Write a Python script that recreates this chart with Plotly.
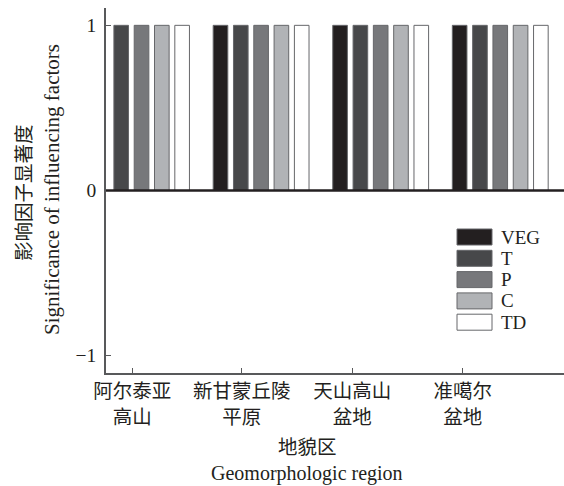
import plotly.graph_objects as go

# ---- data ----
regions = ["阿尔泰亚<br>高山", "新甘蒙丘陵<br>平原", "天山高山<br>盆地", "准噶尔<br>盆地"]
factors = ["VEG", "T", "P", "C", "TD"]
veg = [0, 1, 1, 1]
t_vals = [1, 1, 1, 1]
p_vals = [1, 1, 1, 1]
c_vals = [1, 1, 1, 1]
td_vals = [1, 1, 1, 1]
series = [veg, t_vals, p_vals, c_vals, td_vals]
colors = ["#231f20", "#47484a", "#77787b", "#b1b3b6", "#ffffff"]
y_ticks = [-1, 0, 1]

W, H = 564, 486
ML, MR, MT, MB = 106, 0, 8, 113
FONT = "Times New Roman, Liberation Serif, Noto Sans CJK SC, serif"
TXT = "#231f20"

xpos = list(range(1, len(regions) + 1))

fig = go.Figure()
for name, vals, col in zip(factors, series, colors):
    fig.add_trace(go.Bar(
        x=xpos, y=vals, name=name,
        marker=dict(color=col, line=dict(color="#66676a", width=1)),
        showlegend=False,
    ))

# thick zero line drawn above bars
fig.add_shape(type="line", xref="paper", yref="y", x0=0, x1=1, y0=0, y1=0,
              line=dict(color="#231f20", width=2.5), layer="above")

# custom legend (wide rectangles like the reference)
pw = W - ML - MR
ph = H - MT - MB
def px2x(p):
    return (p - ML) / pw
def py2y(p):
    return (H - MB - p) / ph

leg_x0, leg_x1, leg_tx = 457, 492, 499
leg_y0, leg_dy, leg_h = 237, 21.3, 16
for i, (name, col) in enumerate(zip(factors, colors)):
    cy = leg_y0 + i * leg_dy
    fig.add_shape(type="rect", xref="paper", yref="paper",
                  x0=px2x(leg_x0), x1=px2x(leg_x1),
                  y0=py2y(cy + leg_h / 2), y1=py2y(cy - leg_h / 2),
                  fillcolor=col, line=dict(color="#66676a", width=1))
    fig.add_annotation(xref="paper", yref="paper", x=px2x(leg_tx), y=py2y(cy),
                       text=name, showarrow=False, xanchor="left", yanchor="middle",
                       font=dict(family=FONT, size=19, color=TXT))

# axis titles
fig.add_annotation(xref="paper", yref="paper", x=px2x(24), y=py2y(193),
                   text="影响因子显著度", textangle=-90, showarrow=False,
                   xanchor="center", yanchor="middle",
                   font=dict(family=FONT, size=19.5, color=TXT))
fig.add_annotation(xref="paper", yref="paper", x=px2x(52), y=py2y(190),
                   text="Significance of influencing factors", textangle=-90, showarrow=False,
                   xanchor="center", yanchor="middle",
                   font=dict(family=FONT, size=21, color=TXT))
fig.add_annotation(xref="paper", yref="paper", x=px2x(307), y=py2y(447),
                   text="地貌区", showarrow=False, xanchor="center", yanchor="middle",
                   font=dict(family=FONT, size=19.5, color=TXT))
fig.add_annotation(xref="paper", yref="paper", x=px2x(307), y=py2y(473),
                   text="Geomorphologic region", showarrow=False, xanchor="center", yanchor="middle",
                   font=dict(family=FONT, size=20, color=TXT))

fig.update_layout(
    width=W, height=H,
    margin=dict(l=ML, r=MR, t=MT, b=MB, pad=0),
    paper_bgcolor="white", plot_bgcolor="white",
    barmode="group", bargap=0.151, bargroupgap=0.28,
    font=dict(family=FONT, size=19, color=TXT),
    showlegend=False,
)
fig.update_xaxes(
    range=[0.703, 4.533],
    tickmode="array", tickvals=[0.923, 1.838, 2.763, 3.686], ticktext=regions,
    ticks="inside", ticklen=5, tickwidth=1, tickcolor="#58595b",
    showline=True, linecolor="#58595b", linewidth=1.5,
    showgrid=False, zeroline=False,
    tickfont=dict(family=FONT, size=19.5, color=TXT),
)
fig.update_yaxes(
    range=[-1.105, 1.105],
    tickmode="array", tickvals=y_ticks,
    ticks="inside", ticklen=5, tickwidth=1, tickcolor="#58595b",
    showline=True, linecolor="#58595b", linewidth=1.5,
    showgrid=False, zeroline=False,
    tickfont=dict(family=FONT, size=19.5, color=TXT),
    ticklabelstandoff=4,
)

fig.write_html(
    "out.html",
    config={"displayModeBar": False},
    post_script="document.body.style.margin='0';document.body.style.overflow='hidden';",
)
